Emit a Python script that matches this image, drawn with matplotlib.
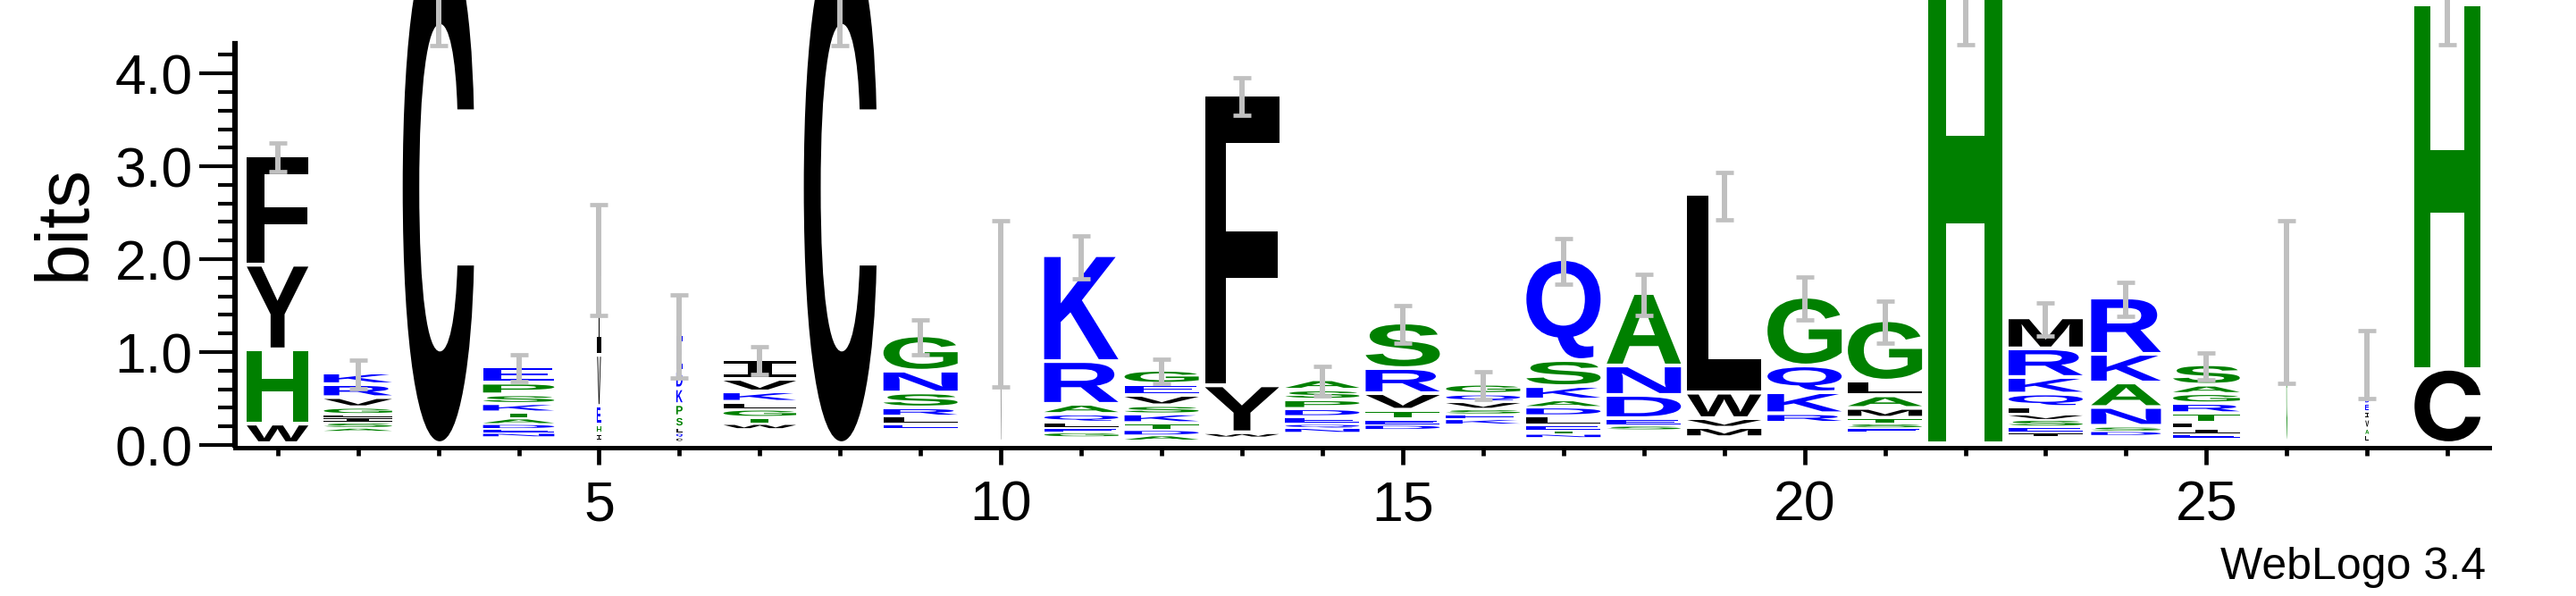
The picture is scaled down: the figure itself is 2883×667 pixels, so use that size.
import matplotlib
matplotlib.use('Agg')
import matplotlib.pyplot as plt
from matplotlib.textpath import TextPath
from matplotlib.font_manager import FontProperties
from matplotlib.patches import PathPatch
from matplotlib.transforms import Affine2D
from matplotlib.ticker import FixedLocator

plt.rcParams['font.family'] = ['Liberation Sans', 'DejaVu Sans']

# sequence positions and stacks (letters bottom -> top, heights in bits)
positions = list(range(1, 29))
letters = ["WHYF", "ASILGVRK", "C", "NEDATKSPE", "IHEVI", "CQLSPKDE", "WTGLKVI",
           "C", "ELRSNG", "V", "GELQARK", "ADTKSVEG", "WYF", "NQEDPSA", "DETVRS",
           "KESVQG", "NTELDAKSQ", "SEDNA", "MVWL", "RKQG", "ESTMALG", "H",
           "IESVLQKRM", "DSNAKR", "EILTRGAS", "G", "LAVIEDNRK", "CH"]
heights = [
    [0.21, 0.80, 0.91, 1.18],
    [0.035, 0.055, 0.06, 0.03, 0.07, 0.105, 0.14, 0.125],
    [5.5],
    [0.04, 0.045, 0.05, 0.06, 0.065, 0.09, 0.095, 0.125, 0.175],
    [0.08, 0.09, 0.2, 0.55, 1.04],
    [0.04, 0.05, 0.05, 0.12, 0.13, 0.17, 0.19, 0.39],
    [0.053, 0.067, 0.087, 0.077, 0.11, 0.135, 0.215],
    [5.5],
    [0.045, 0.08, 0.09, 0.16, 0.235, 0.38],
    [1.5],
    [0.048, 0.048, 0.058, 0.087, 0.105, 0.46, 1.14],
    [0.053, 0.058, 0.072, 0.096, 0.09, 0.11, 0.12, 0.15],
    [0.04, 0.505, 3.13],
    [0.048, 0.043, 0.077, 0.082, 0.096, 0.106, 0.11],
    [0.053, 0.053, 0.10, 0.178, 0.27, 0.49],
    [0.058, 0.053, 0.053, 0.077, 0.082, 0.106],
    [0.038, 0.038, 0.053, 0.096, 0.096, 0.077, 0.144, 0.28, 1.087],
    [0.043, 0.072, 0.25, 0.317, 0.78],
    [0.106, 0.096, 0.274, 2.14],
    [0.096, 0.226, 0.288, 0.74],
    [0.048, 0.048, 0.058, 0.10, 0.135, 0.159, 0.65],
    [5.5],
    [0.048, 0.058, 0.077, 0.058, 0.072, 0.144, 0.178, 0.308, 0.334],
    [0.048, 0.048, 0.202, 0.264, 0.308, 0.606],
    [0.038, 0.0625, 0.0625, 0.096, 0.106, 0.106, 0.091, 0.22],
    [1.52],
    [0.072, 0.067, 0.10, 0.087, 0.082, 0.077, 0.144, 0.135, 0.077],
    [0.80, 3.92],
]
# bits taken by letters too thin to be seen, at the bottom of each stack
hidden_bits = [0, 0.14, 0, 0.08, 0.03, 0.03, 0.163, 0, 0.17, 0.02, 0.077, 0.04,
               0.077, 0.125, 0.154, 0.21, 0.072, 0.154, 0.067, 0.226, 0.125, 0,
               0.077, 0.091, 0.067, 0.02, 0.024, 0]
# stack width relative to a full column (fraction of non-gap sequences)
width_frac = [0.83, 0.92, 0.96, 0.96, 0.05, 0.085, 0.98, 0.98, 1, 0.012,
              1, 1, 1, 1, 1, 1, 1, 1, 1, 1, 1, 1, 1, 0.94, 0.9, 0.012, 0.05, 0.89]
err_bits = [0.155, 0.155, 1.2, 0.145, 0.60, 0.45, 0.15, 1.2, 0.185, 0.89, 0.23,
            0.13, 0.20, 0.155, 0.20, 0.145, 0.245, 0.225, 0.255, 0.23, 0.23, 1.19,
            0.18, 0.18, 0.145, 0.875, 0.365, 0.41]

# hydrophobicity colour scheme
colors = {}
for c in "RKDENQ":
    colors[c] = '#0000ff'
for c in "SGHTAP":
    colors[c] = '#008000'
for c in "YVMCLFIW":
    colors[c] = '#000000'

font_main = FontProperties(family='Liberation Sans', weight='bold')
font_c = FontProperties(family='Inter', weight='bold')        # flat C terminals
font_i = FontProperties(family='DejaVu Sans Mono', weight='bold')  # serif I
glyphs = {}


def draw_letter(ax, ch, x, y, w, h, color):
    if ch not in glyphs:
        fp = font_main
        if ch == 'I':
            fp = font_i
        elif ch == 'C':
            fp = font_c
        p = TextPath((0, 0), ch, size=1, prop=fp)
        glyphs[ch] = (p, p.get_extents())
    p, ext = glyphs[ch]
    tr = (Affine2D().translate(-ext.x0, -ext.y0)
          .scale(w / ext.width, h / ext.height)
          .translate(x - w / 2, y))
    ax.add_patch(PathPatch(tr.transform_path(p), facecolor=color,
                           edgecolor='none', lw=0, zorder=2))


W, H = 2883, 667
fig = plt.figure(figsize=(W / 100, H / 100), dpi=100)
ax = fig.add_axes([263 / W, 169 / H, (2786 - 263) / W, 498 / H])

full_w = 0.923
tops = []
for i, pos in enumerate(positions):
    y = hidden_bits[i]
    w = full_w * width_frac[i]
    for ch, h in zip(letters[i], heights[i]):
        gap = min(0.04, 0.35 * h)
        draw_letter(ax, ch, pos, y + gap, w, h - gap, colors[ch])
        y += h
    tops.append(y)

ax.errorbar(positions, tops, yerr=err_bits, fmt='none', ecolor='#c0c0c0',
            elinewidth=4.3, capsize=7.5, capthick=3.4, zorder=5)

ax.set_xlim(0.47, 28.52)
ax.set_ylim(0, 4.79)

for s in ['top', 'right']:
    ax.spines[s].set_visible(False)
ax.spines['left'].set_linewidth(4.5)
ax.spines['left'].set_bounds(0, 4.32)
ax.spines['bottom'].set_linewidth(3.6)
ax.spines['bottom'].set_position(('outward', 1.8))

ax.yaxis.set_major_locator(FixedLocator([0, 1, 2, 3, 4]))
ax.set_yticklabels(['0.0', '1.0', '2.0', '3.0', '4.0'])
ax.yaxis.set_minor_locator(FixedLocator([0.2, 0.4, 0.6, 0.8, 1.2, 1.4, 1.6, 1.8,
                                         2.2, 2.4, 2.6, 2.8, 3.2, 3.4, 3.6, 3.8, 4.2]))
ax.xaxis.set_major_locator(FixedLocator([5, 10, 15, 20, 25]))
ax.xaxis.set_minor_locator(FixedLocator(positions))

ax.tick_params(axis='y', which='major', length=29, width=3, pad=5, labelsize=45)
ax.tick_params(axis='y', which='minor', length=14, width=3)
ax.tick_params(axis='x', which='major', length=14, width=3.4, pad=12, labelsize=45)
ax.tick_params(axis='x', which='minor', length=6.5, width=3.4)

ax.set_ylabel('bits', fontsize=60, labelpad=12)

fig.text(2782 / W, 19 / H, 'WebLogo 3.4', ha='right', va='baseline', fontsize=36)

fig.savefig('out.png', dpi=100)
